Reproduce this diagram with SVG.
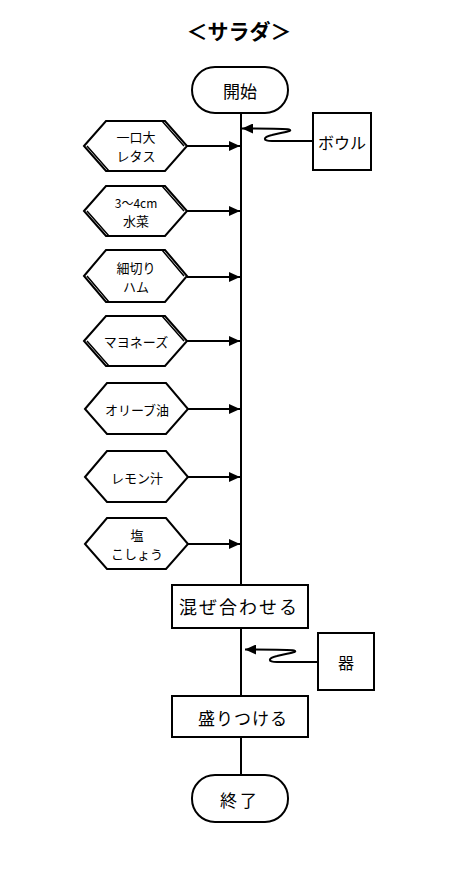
<svg xmlns="http://www.w3.org/2000/svg" width="475" height="874" viewBox="0 0 475 874">
<style>
.s{fill:#fff;stroke:#000;stroke-width:2}
.d{fill:none;stroke:#000;stroke-width:1.5}
.c{fill:none;stroke:#000;stroke-width:2}
text{font-family:"Noto Sans CJK JP","Noto Sans CJK SC",sans-serif;fill:#000;text-anchor:middle;dominant-baseline:central}
.h{font-size:13px}
.sm{font-size:12px}
</style>
<defs>
<marker id="ah" markerWidth="12" markerHeight="10" refX="11" refY="5" orient="auto" markerUnits="userSpaceOnUse">
<path d="M0,0 L11,5 L0,10 Z" fill="#000"/>
</marker>
</defs>
<rect width="475" height="874" fill="#fff"/>
<text x="239" y="30" style="font-size:21px;font-weight:bold">＜サラダ＞</text>
<g id="connectors">
<path class="c" d="M241,113 V585 M241,628 V696 M241,737 V775"/>
<path class="c" d="M187,146 H240" marker-end="url(#ah)"/>
<path class="c" d="M187,211 H240" marker-end="url(#ah)"/>
<path class="c" d="M187,277 H240" marker-end="url(#ah)"/>
<path class="c" d="M187,341 H240" marker-end="url(#ah)"/>
<path class="c" d="M187,409 H240" marker-end="url(#ah)"/>
<path class="c" d="M187,477 H240" marker-end="url(#ah)"/>
<path class="c" d="M187,544 H240" marker-end="url(#ah)"/>
<path class="c" d="M313,141 H272 C262,141 263,137 272,135 C284,132 294,131 289,129.5 C285,128.5 270,128.5 242,128.5" marker-end="url(#ah)"/>
<path class="c" d="M318,662 H277 C267,662 268,658 277,656 C289,653 299,652 294,650.5 C290,649.5 275,649.5 245,649.5" marker-end="url(#ah)"/>
</g>
<g id="start"><rect class="s" x="192" y="67" width="96" height="46" rx="23"/><text x="240" y="90" style="font-size:17px">開始</text></g>
<g id="bowl"><rect class="s" x="313" y="113" width="58" height="57"/><text x="342" y="142" style="font-size:16px">ボウル</text></g>
<g id="n1"><path class="s" d="M84,146 L106,121 L165,121 L187,146 L165,171 L106,171 Z"/><path class="d" d="M162,121 L184,146 M87,146 L109,171"/><text class="h" x="136" y="136">一口大</text><text class="h" x="136" y="155">レタス</text></g>
<g id="n2"><path class="s" d="M84,211 L106,186 L165,186 L187,211 L165,236 L106,236 Z"/><path class="d" d="M162,186 L184,211 M87,211 L109,236"/><text class="sm" x="136" y="202">3〜4cm</text><text class="h" x="136" y="220">水菜</text></g>
<g id="n3"><path class="s" d="M84,276 L106,250 L165,250 L187,276 L165,302 L106,302 Z"/><path class="d" d="M162,250 L184,276 M87,276 L109,302"/><text class="h" x="136" y="267">細切り</text><text class="h" x="136" y="286">ハム</text></g>
<g id="n4"><path class="s" d="M84,341 L106,316 L165,316 L187,341 L165,366 L106,366 Z"/><path class="d" d="M162,316 L184,341 M87,341 L109,366"/><text class="h" x="136" y="341">マヨネーズ</text></g>
<g id="n5"><path class="s" d="M85,409 L107,383 L166,383 L188,409 L166,434 L107,434 Z"/><text class="h" x="137" y="409">オリーブ油</text></g>
<g id="n6"><path class="s" d="M85,477 L107,451 L166,451 L188,477 L166,502 L107,502 Z"/><text class="h" x="137" y="477">レモン汁</text></g>
<g id="n7"><path class="s" d="M85,544 L107,518 L166,518 L188,544 L166,569 L107,569 Z"/><text class="h" x="137" y="534">塩</text><text class="h" x="137" y="553">こしょう</text></g>
<g id="mix"><rect class="s" x="172" y="585" width="136" height="43"/><text x="239" y="606" style="font-size:18px;letter-spacing:2px">混ぜ合わせる</text></g>
<g id="dish"><rect class="s" x="318" y="633" width="56" height="57"/><text x="346" y="662" style="font-size:16px">器</text></g>
<g id="serve"><rect class="s" x="172" y="696" width="136" height="41"/><text x="243" y="717" style="font-size:17px;letter-spacing:1px">盛りつける</text></g>
<g id="end"><rect class="s" x="192" y="775" width="96" height="47" rx="23"/><text x="240" y="799" style="font-size:17px;letter-spacing:3px">終了</text></g>
</svg>
